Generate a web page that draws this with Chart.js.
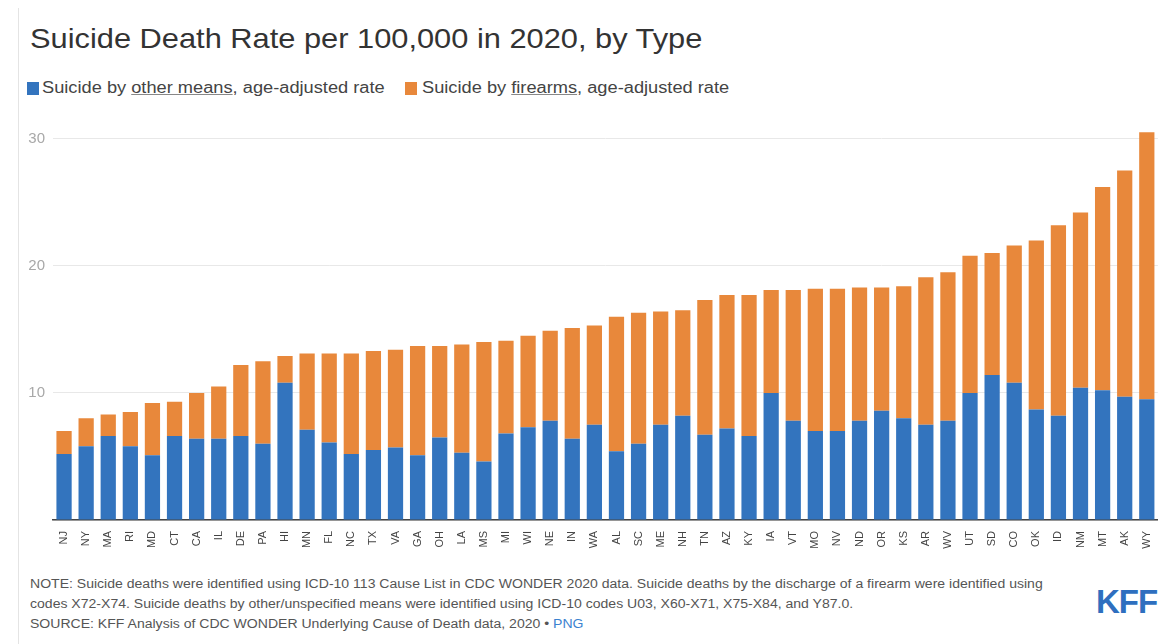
<!DOCTYPE html>
<html>
<head>
<meta charset="utf-8">
<script src="https://cdn.jsdelivr.net/npm/chart.js@4.4.0/dist/chart.umd.min.js"></script>
<style>
  body { margin: 0; background: #fff; font-family: "Liberation Sans", Arial, sans-serif; }
  #page { position: relative; width: 1168px; height: 644px; overflow: hidden; }
  #edge { position: absolute; left: 18px; top: 8px; width: 1px; height: 636px; background: #e4e4e4; }
  .wide { display: inline-block; transform-origin: left center; white-space: nowrap; }
  #title { position: absolute; left: 30px; top: 23px; font-size: 28px; color: #333; }
  #title .wide { transform: scaleX(1.1); }
  .leg { position: absolute; top: 79px; font-size: 16px; color: #444; }
  .leg .wide { transform: scaleX(1.14); }
  .sq { position: absolute; top: 82px; width: 12px; height: 13px; }
  .leg u { text-decoration-color: #888; }
  #chartBox { position: absolute; left: 0; top: 109px; width: 1171px; height: 457px; }
  #notes { position: absolute; left: 30px; top: 574px; font-size: 12px; line-height: 20px; color: #555; }
  #notes .wide { transform: scaleX(1.17); display: block; }
  #notes .png { color: #3b82d0; }
  #kff { position: absolute; left: 1096px; top: 583px; font-size: 33px; font-weight: bold; color: #2e6fbf;
         font-family: "Liberation Sans Narrow", "Arial Narrow", "Liberation Sans", sans-serif; letter-spacing: -1px; }
</style>
</head>
<body>
<div id="page">
  <div id="edge"></div>
  <div id="title"><span class="wide">Suicide Death Rate per 100,000 in 2020, by Type</span></div>
  <div class="sq" style="left:27px; background:#3374be"></div>
  <div class="leg" style="left:42px"><span class="wide">Suicide by <u>other means</u>, age-adjusted rate</span></div>
  <div class="sq" style="left:405px; background:#e8883b"></div>
  <div class="leg" style="left:422px"><span class="wide">Suicide by <u>firearms</u>, age-adjusted rate</span></div>
  <div id="chartBox"><canvas id="chart"></canvas></div>
  <div id="notes">
    <span class="wide">NOTE: Suicide deaths were identified using ICD-10 113 Cause List in CDC WONDER 2020 data. Suicide deaths by the discharge of a firearm were identified using</span>
    <span class="wide">codes X72-X74. Suicide deaths by other/unspecified means were identified using ICD-10 codes U03, X60-X71, X75-X84, and Y87.0.</span>
    <span class="wide">SOURCE: KFF Analysis of CDC WONDER Underlying Cause of Death data, 2020 • <span class="png">PNG</span></span>
  </div>
  <div id="kff">KFF</div>
</div>
<script>
// states, sorted by total rate
var states = ['NJ','NY','MA','RI','MD','CT','CA','IL','DE','PA',
              'HI','MN','FL','NC','TX','VA','GA','OH','LA','MS',
              'MI','WI','NE','IN','WA','AL','SC','ME','NH','TN',
              'AZ','KY','IA','VT','MO','NV','ND','OR','KS','AR',
              'WV','UT','SD','CO','OK','ID','NM','MT','AK','WY'];

// other means, age-adjusted rate
var otherMeans = [5.2, 5.8, 6.6, 5.8, 5.1, 6.6, 6.4, 6.4, 6.6, 6.0,
                  10.8, 7.1, 6.1, 5.2, 5.5, 5.7, 5.1, 6.5, 5.3, 4.6,
                  6.8, 7.3, 7.8, 6.4, 7.5, 5.4, 6.0, 7.5, 8.2, 6.7,
                  7.2, 6.6, 10.0, 7.8, 7.0, 7.0, 7.8, 8.6, 8.0, 7.5,
                  7.8, 10.0, 11.4, 10.8, 8.7, 8.2, 10.4, 10.2, 9.7, 9.5];

// firearms, age-adjusted rate
var firearms = [1.8, 2.2, 1.7, 2.7, 4.1, 2.7, 3.6, 4.1, 5.6, 6.5,
                2.1, 6.0, 7.0, 7.9, 7.8, 7.7, 8.6, 7.2, 8.5, 9.4,
                7.3, 7.2, 7.1, 8.7, 7.8, 10.6, 10.3, 8.9, 8.3, 10.6,
                10.5, 11.1, 8.1, 10.3, 11.2, 11.2, 10.5, 9.7, 10.4, 11.6,
                11.7, 10.8, 9.6, 10.8, 13.3, 15.0, 13.8, 16.0, 17.8, 21.0];

var yTicks = [0, 10, 20, 30];

var ctx = document.getElementById('chart').getContext('2d');
new Chart(ctx, {
    type: 'bar',
    data: {
        labels: states,
        datasets: [
            {
                label: 'Suicide by other means, age-adjusted rate',
                data: otherMeans,
                backgroundColor: '#3374be',
                categoryPercentage: 1.0,
                barPercentage: 0.69
            },
            {
                label: 'Suicide by firearms, age-adjusted rate',
                data: firearms,
                backgroundColor: '#e8883b',
                categoryPercentage: 1.0,
                barPercentage: 0.69
            }
        ]
    },
    options: {
        responsive: true,
        maintainAspectRatio: false,
        animation: false,
        layout: { padding: 0 },
        plugins: {
            legend: { display: false },
            tooltip: { enabled: false }
        },
        scales: {
            x: {
                stacked: true,
                grid: { display: false, drawTicks: false },
                border: { color: '#444', width: 1.5 },
                ticks: {
                    color: '#444',
                    font: { family: 'Liberation Sans', size: 11 },
                    minRotation: 90,
                    maxRotation: 90,
                    autoSkip: false,
                    padding: 11
                },
                afterFit: function(scale) { scale.height = 46; }
            },
            y: {
                stacked: true,
                min: 0,
                max: 31,
                afterBuildTicks: function(scale) {
                    scale.ticks = yTicks.map(function(v) { return { value: v }; });
                },
                grid: { color: '#e8e8e8', drawTicks: false },
                border: { display: false },
                ticks: {
                    color: '#a8a8a8',
                    font: { family: 'Liberation Sans', size: 15 },
                    padding: 8,
                    callback: function(v) { return v === 0 ? '' : v; }
                },
                afterFit: function(scale) { scale.width = 53; }
            }
        }
    }
});
</script>
</body>
</html>
